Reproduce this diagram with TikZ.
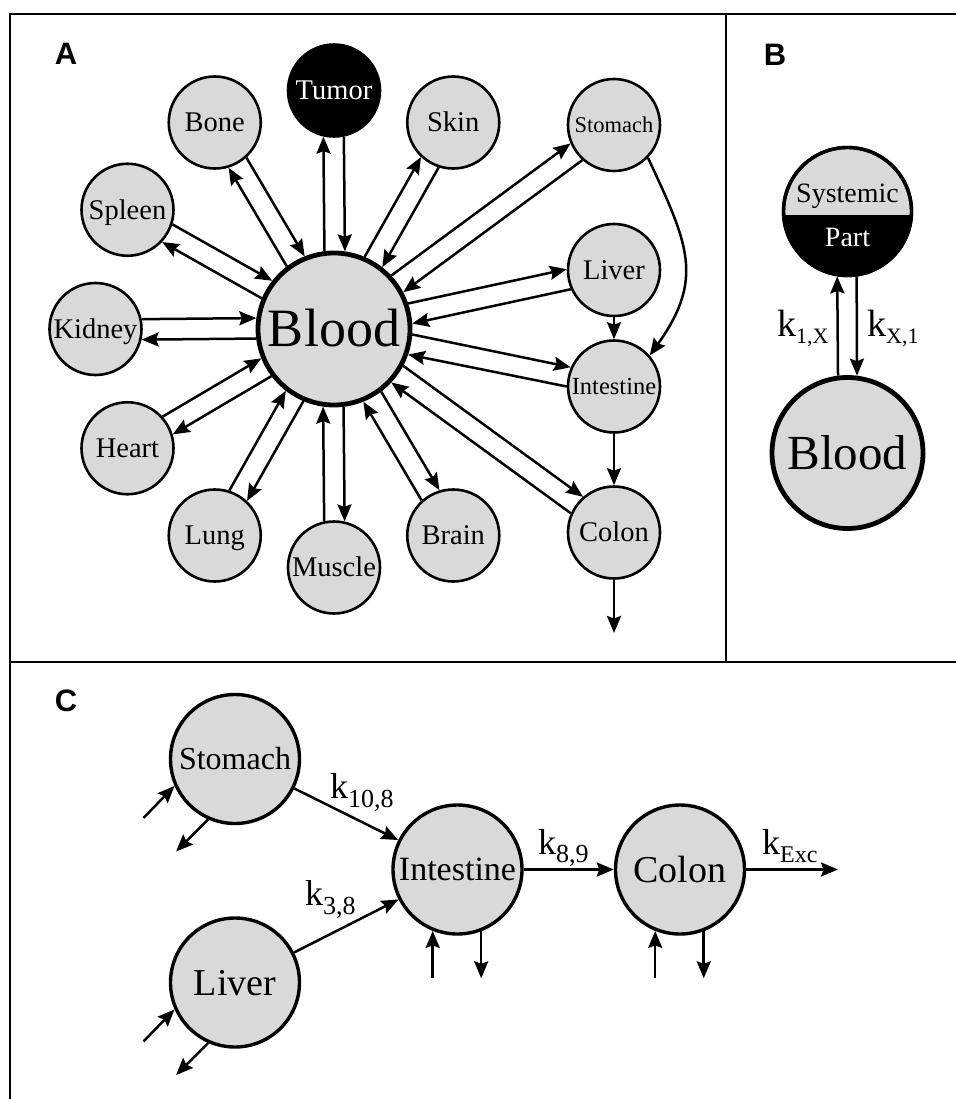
\documentclass[tikz,border=0pt]{standalone}
\usepackage{fontspec}
\setmainfont{Liberation Serif}
\newfontfamily\hfont{Liberation Sans}
\usetikzlibrary{arrows.meta,calc}
\newcommand\lbl[2]{\fontsize{#1}{#1}\selectfont\raisebox{0pt}[0.66em][0pt]{#2}}
\newcommand\kk[4]{{\fontsize{#1}{#1}\selectfont k}{\fontsize{#2}{#2}\selectfont\raisebox{-#3}{#4}}}
\begin{document}
\begin{tikzpicture}[x=1pt,y=-1pt,
  organ/.style={circle,draw,line width=2.6pt,fill=black!15,minimum size=92pt,inner sep=0pt},
  bloodA/.style={circle,draw,line width=4.8pt,fill=black!15,minimum size=152pt,inner sep=0pt},
  cnode/.style={circle,draw,line width=3.4pt,fill=black!15,minimum size=129pt,inner sep=0pt},
  arr/.style={line width=2.5pt,-{Stealth[length=17pt,width=14pt,inset=2.5pt]}},
  frame/.style={line width=2.6pt},
  head/.style={font=\hfont\bfseries\fontsize{31}{31}\selectfont,inner sep=0pt},
  klab/.style={inner sep=0pt,anchor=base west}]
\useasboundingbox (0,0) rectangle (956,1099);
% frame
\draw[frame] (10,14) -- (956,14);
\draw[frame] (10,12.7) -- (10,1099);
\draw[frame] (726,14) -- (726,662);
\draw[frame] (10,662) -- (956,662);
% headings
\node[head] (la) at (66,54) {A};
\node[head] (lb) at (775,54.5) {B};
\node[head] (lc) at (66,701) {C};
% Panel A
\node[bloodA] (blood) at (334,329) {\lbl{54}{Blood}};
\node[organ,fill=black,text=white] (tumor) at (334,90.5) {\lbl{28.5}{Tumor}};
\node[organ] (bone) at (214.75,122.5) {\lbl{28.5}{Bone}};
\node[organ] (skin) at (453.25,122.5) {\lbl{28.5}{Skin}};
\node[organ] (spleen) at (127.5,209.75) {\lbl{28.5}{Spleen}};
\node[organ] (kidney) at (95.5,329) {\lbl{28.5}{Kidney}};
\node[organ] (heart) at (127.5,448.25) {\lbl{28.5}{Heart}};
\node[organ] (lung) at (214.75,535.5) {\lbl{28.5}{Lung}};
\node[organ] (muscle) at (334,567.5) {\lbl{28.5}{Muscle}};
\node[organ] (brain) at (453.25,535.5) {\lbl{28.5}{Brain}};
\node[organ] (stomachA) at (614,125) {\lbl{22.5}{Stomach}};
\node[organ] (liverA) at (614,270) {\lbl{28.5}{Liver}};
\node[organ] (intestineA) at (614,386.5) {\lbl{24.5}{Intestine}};
\node[organ] (colonA) at (614,532.5) {\lbl{28.5}{Colon}};
\foreach \o/\a in {tumor/90, bone/120, skin/60, spleen/150, kidney/180, heart/210, lung/240, muscle/270, brain/300, stomachA/36.08, liverA/11.9, intestineA/-11.6, colonA/-36}{
  \pgfmathsetmacro\pa{\a+7.4}
  \pgfmathsetmacro\pb{\a+180-12.3}
  \pgfmathsetmacro\pc{\a+180+12.3}
  \pgfmathsetmacro\pd{\a-7.4}
  \draw[arr] (blood.\pa) -- (\o.\pb);
  \draw[arr] (\o.\pc) -- (blood.\pd);
}
\draw[arr] (liverA) -- (intestineA);
\draw[arr] (intestineA) -- (colonA);
\coordinate (excA) at (614,633);
\draw[arr] (colonA) -- (excA);
\draw[arr] (stomachA.-44) .. controls +(40,86) and +(55,-77) .. (intestineA.41);
% Panel B
\node[circle,draw,line width=3.4pt,fill=black!15,minimum size=128pt,inner sep=0pt] (sys) at (847.5,211.5) {};
\begin{scope}
\clip (sys.center) circle (64pt);
\fill[black] (770,215) rectangle (930,290);
\end{scope}
\draw[line width=3.4pt] (sys.center) circle (64pt);
\node[inner sep=0pt,anchor=base] (systxt) at (847.5,203) {\fontsize{28}{28}\selectfont Systemic};
\node[inner sep=0pt,anchor=base,text=white] (parttxt) at (847.5,247) {\fontsize{28}{28}\selectfont Part};
\node[circle,draw,line width=4.8pt,fill=black!15,minimum size=151pt,inner sep=0pt] (bloodB) at (847.5,453) {\lbl{49}{Blood}};
\draw[arr] (bloodB.97) -- (sys.261.8);
\draw[arr] (sys.278.2) -- (bloodB.83);
\node[klab] (k1x) at (777,336) {\kk{38}{22}{7pt}{1,X}};
\node[klab] (kx1) at (867,336) {\kk{38}{22}{7pt}{X,1}};
% Panel C
\node[cnode] (stC) at (235,759) {\lbl{32}{Stomach}};
\node[cnode] (livC) at (235,982.5) {\lbl{38}{Liver}};
\node[cnode] (intC) at (457.5,869.5) {\lbl{34}{Intestine}};
\node[cnode] (colC) at (680,869.5) {\lbl{38}{Colon}};
\draw[arr] (stC) -- (intC);
\draw[arr] (livC) -- (intC);
\draw[arr] (intC) -- (colC);
\coordinate (excC) at (838,869.5);
\draw[arr] (colC) -- (excC);
\path (stC.204.3) ++(-31,32) coordinate (stIn);
\draw[arr] (stIn) -- (stC.204.3);
\path (stC.246) ++(-32,32) coordinate (stOut);
\draw[arr] (stC.246) -- (stOut);
\path (livC.204.3) ++(-31,32) coordinate (livIn);
\draw[arr] (livIn) -- (livC.204.3);
\path (livC.246) ++(-32,32) coordinate (livOut);
\draw[arr] (livC.246) -- (livOut);
\path (intC.248.2) ++(0,47) coordinate (intIn);
\draw[arr] (intIn) -- (intC.248.2);
\path (intC.291) ++(0,47) coordinate (intOut);
\draw[arr] (intC.291) -- (intOut);
\path (colC.248.7) ++(0,47) coordinate (colIn);
\draw[arr] (colIn) -- (colC.248.7);
\path (colC.291.3) ++(0,47) coordinate (colOut);
\draw[arr] (colC.291.3) -- (colOut);
\node[klab] (k108) at (330,798) {\kk{36}{26}{9pt}{10,8}};
\node[klab] (k38) at (305,905) {\kk{36}{26}{9pt}{3,8}};
\node[klab] (k89) at (538,854) {\kk{36}{26}{8pt}{8,9}};
\node[klab] (kexc) at (762,854) {\kk{36}{24}{8pt}{Exc}};
\end{tikzpicture}
\end{document}
